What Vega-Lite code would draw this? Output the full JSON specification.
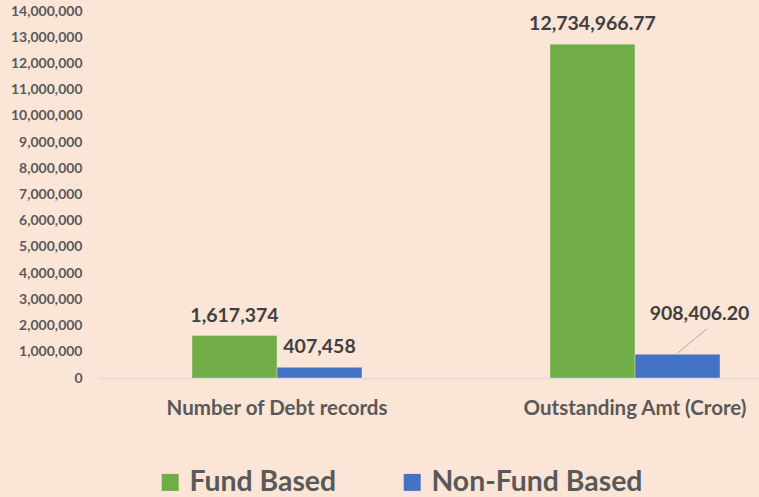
{
  "$schema": "https://vega.github.io/schema/vega-lite/v6.json",
  "autosize": "none",
  "width": 661,
  "height": 367,
  "padding": {"left": 98, "top": 11, "right": 0, "bottom": 119},
  "background": "#FBE5D6",
  "config": {
    "view": {"stroke": null},
    "font": "Lato"
  },
  "data": {
    "values": [
      {"group": "Number of Debt records", "series": "Fund Based", "value": 1617374, "label": "1,617,374"},
      {"group": "Number of Debt records", "series": "Non-Fund Based", "value": 407458, "label": "407,458"},
      {"group": "Outstanding Amt (Crore)", "series": "Fund Based", "value": 12734966.77, "label": "12,734,966.77"},
      {"group": "Outstanding Amt (Crore)", "series": "Non-Fund Based", "value": 908406.20, "label": "908,406.20"}
    ]
  },
  "encoding": {
    "x": {
      "field": "group", "type": "nominal", "sort": null,
      "scale": {"range": [0, 716], "paddingInner": 0.5251, "paddingOuter": 0.2626},
      "axis": {"title": null, "labelAngle": 0, "ticks": false, "domainColor": "#D6DCE5", "domainWidth": 1.5,
               "labelFont": "Lato", "labelFontWeight": "bold", "labelFontSize": 20.5, "labelColor": "#595959",
               "labelPadding": 20, "labelLimit": 400}
    },
    "y": {
      "field": "value", "type": "quantitative",
      "scale": {"domain": [0, 14000000], "nice": false},
      "axis": {"title": null, "domain": false, "ticks": false, "grid": false,
               "values": [0, 1000000, 2000000, 3000000, 4000000, 5000000, 6000000, 7000000, 8000000, 9000000, 10000000, 11000000, 12000000, 13000000, 14000000],
               "format": ",d", "labelFont": "Lato", "labelFontWeight": "bold", "labelFontSize": 14,
               "labelColor": "#595959", "labelPadding": 16}
    }
  },
  "layer": [
    {
      "mark": {"type": "bar", "stroke": "#FBE5D6", "strokeOpacity": 0.4, "strokeWidth": 1},
      "encoding": {
        "xOffset": {"field": "series", "type": "nominal", "sort": null,
                    "scale": {"paddingInner": 0, "paddingOuter": 0}},
        "color": {
          "field": "series", "type": "nominal", "sort": null,
          "scale": {"domain": ["Fund Based", "Non-Fund Based"], "range": ["#70AD47", "#4472C4"]},
          "legend": {
            "title": null, "orient": "none", "direction": "horizontal",
            "legendX": 58, "legendY": 457,
            "symbolType": "square", "symbolSize": 289, "symbolStrokeWidth": 0,
            "labelFont": "Lato", "labelFontWeight": "bold", "labelFontSize": 28.4, "labelColor": "#595959",
            "labelOffset": 5, "columnPadding": 61, "labelLimit": 400
          }
        }
      }
    },
    {
      "transform": [{"filter": "datum.label != '908,406.20'"}],
      "mark": {"type": "text", "baseline": "alphabetic", "dy": -14, "font": "Lato", "fontWeight": "bold", "fontSize": 19.5, "color": "#404040"},
      "encoding": {
        "xOffset": {"field": "series", "type": "nominal", "sort": null,
                    "scale": {"paddingInner": 0, "paddingOuter": 0}},
        "text": {"field": "label"}
      }
    },
    {
      "transform": [{"filter": "datum.label == '908,406.20'"}],
      "mark": {"type": "text", "baseline": "alphabetic", "dx": 22, "dy": -34, "font": "Lato", "fontWeight": "bold", "fontSize": 19.5, "color": "#404040"},
      "encoding": {
        "xOffset": {"field": "series", "type": "nominal", "sort": null,
                    "scale": {"paddingInner": 0, "paddingOuter": 0}},
        "text": {"field": "label"}
      }
    },
    {
      "transform": [{"filter": "datum.label == '908,406.20'"}],
      "mark": {"type": "rule", "color": "#A6A6A6", "strokeWidth": 1, "yOffset": -1, "x2Offset": 29, "y2Offset": -25},
      "encoding": {
        "x": {"field": "group", "type": "nominal", "sort": null, "bandPosition": 0.75},
        "x2": {"field": "group", "bandPosition": 0.75},
        "y2": {"field": "value"}
      }
    }
  ]
}
